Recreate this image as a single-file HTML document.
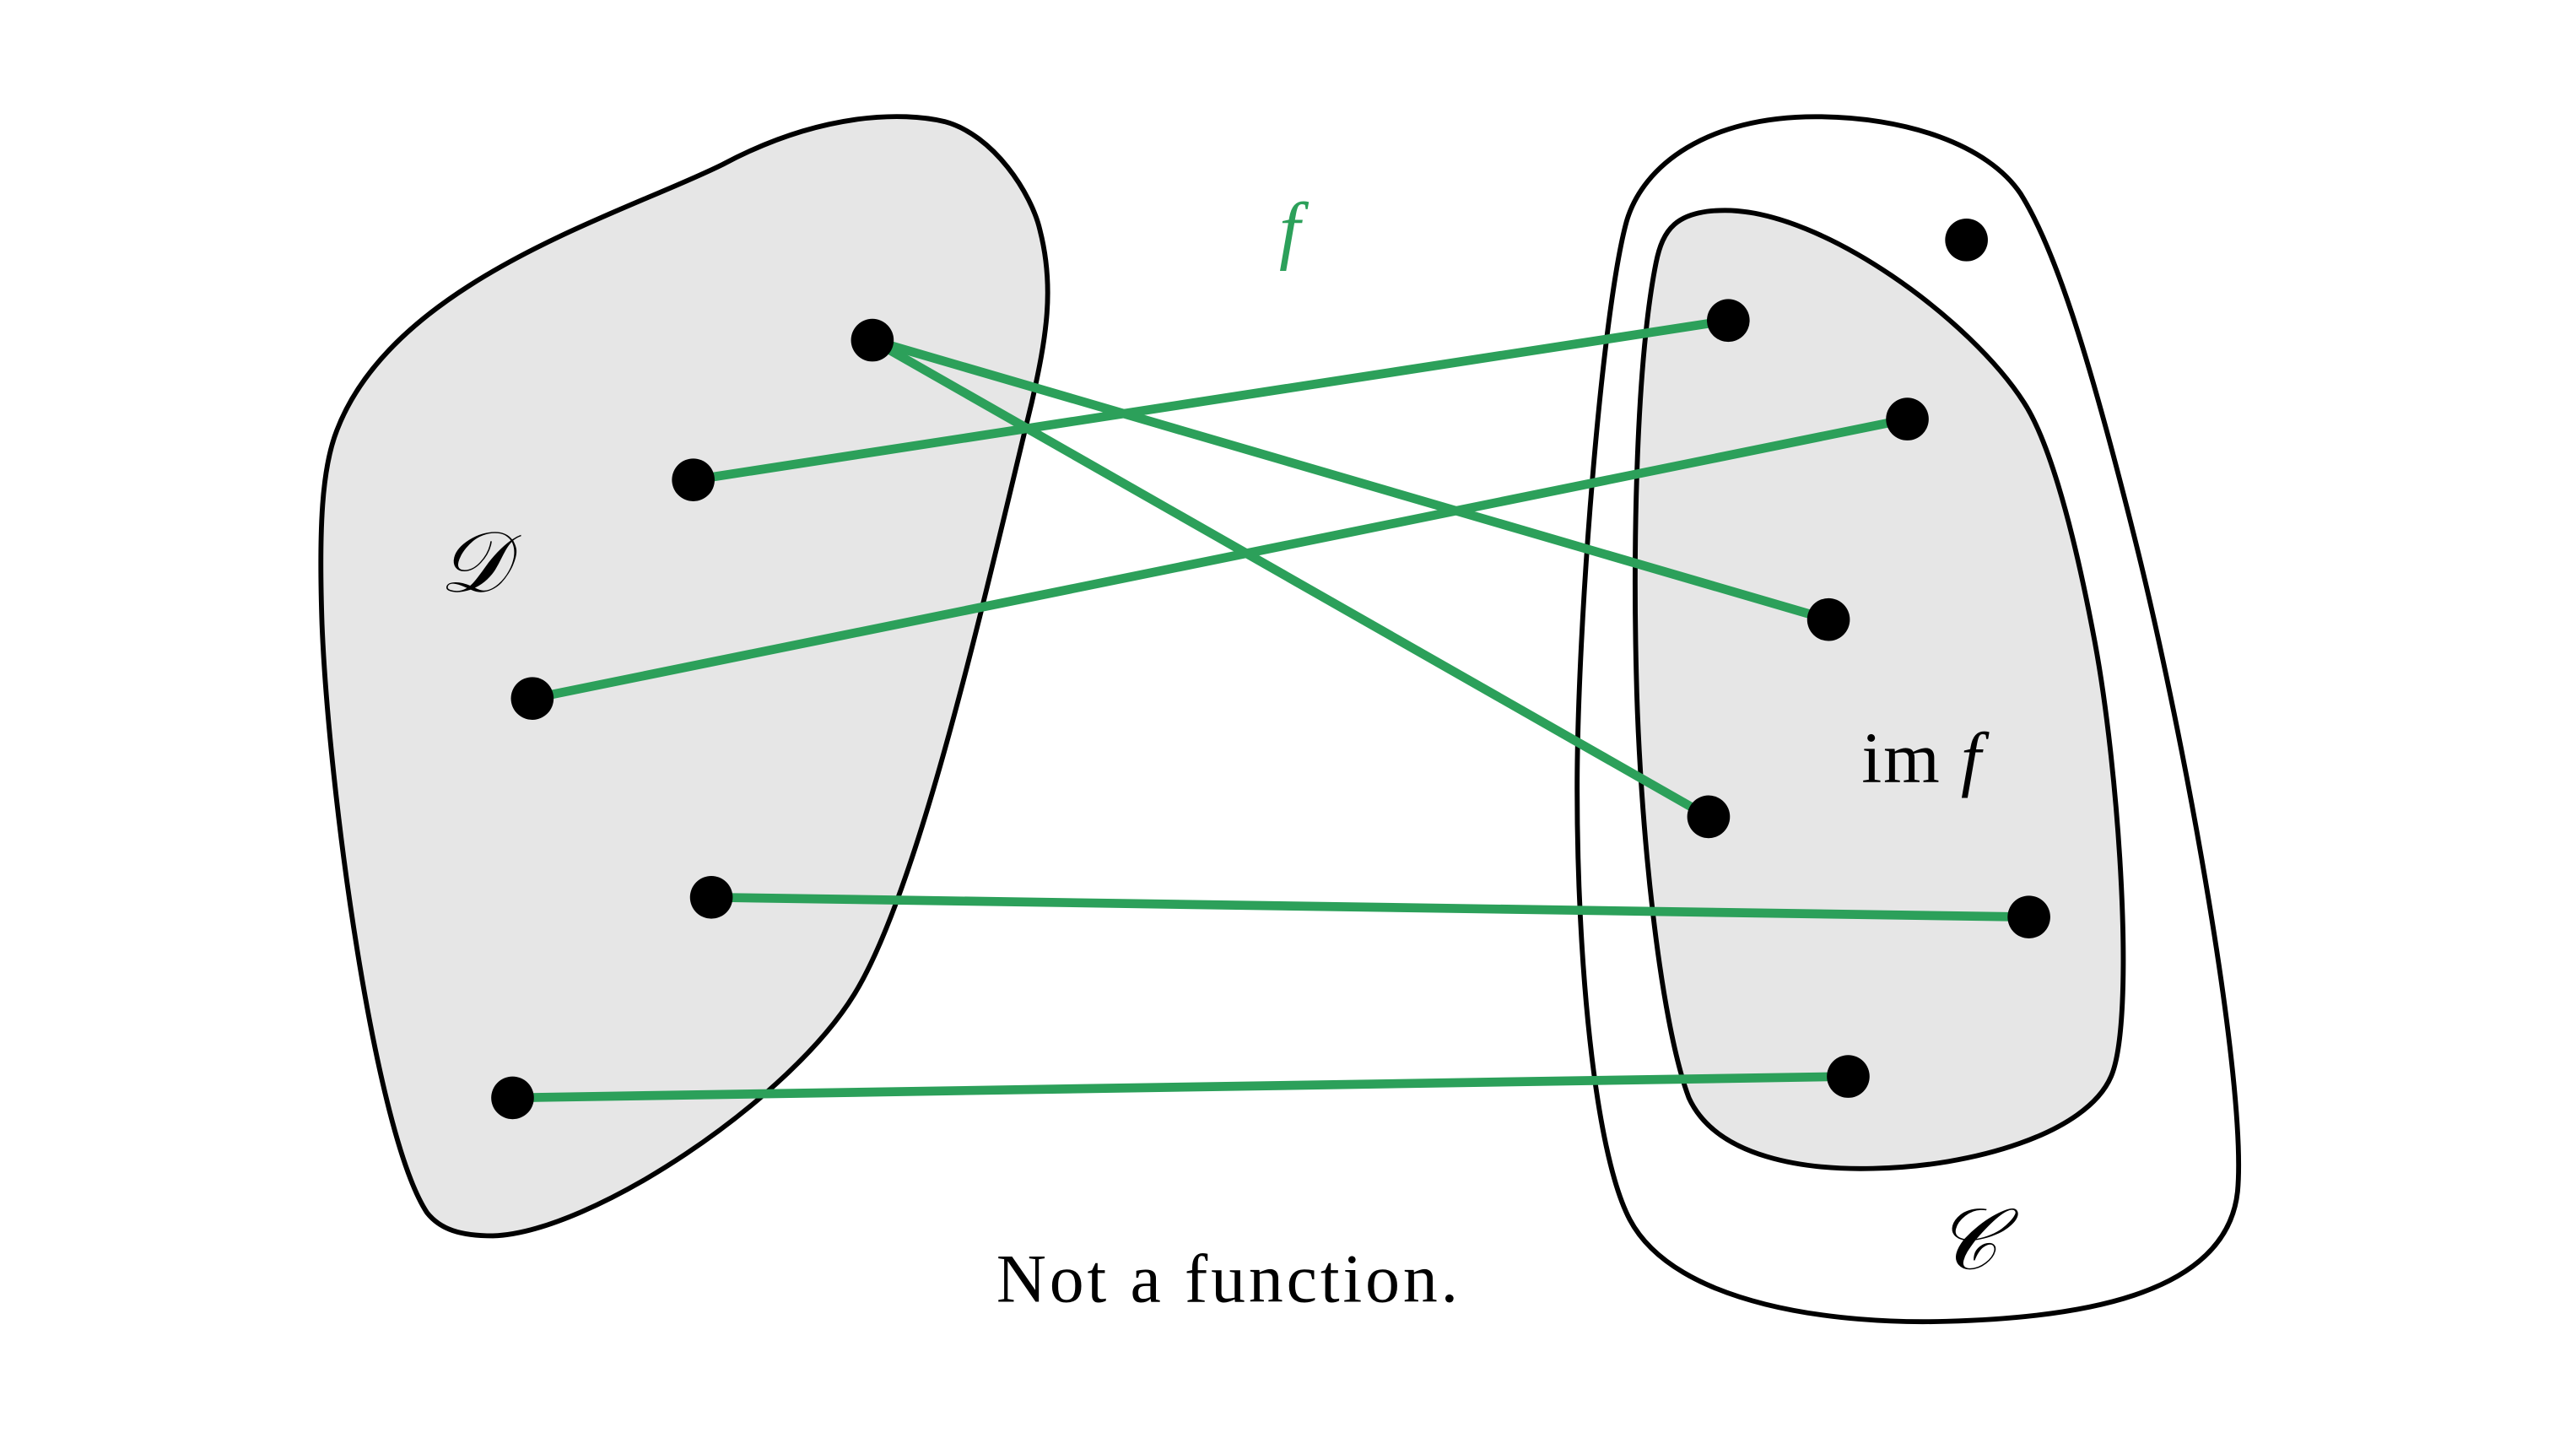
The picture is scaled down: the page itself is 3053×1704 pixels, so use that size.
<!DOCTYPE html>
<html><head><meta charset="utf-8"><style>
html,body{margin:0;padding:0;background:#fff;}
svg{display:block;}
</style></head><body>
<svg id="fig" width="3053" height="1704" viewBox="0 0 1568 875" preserveAspectRatio="none" xmlns="http://www.w3.org/2000/svg">
<path d="M440,100 C500,68 550,68 575,74 C605,82 628,118 633,140 C642,175 637,205 628,245 C600,360 560,540 520,605 C480,670 360,750 300,752 C280,752 268,748 260,738 C228,690 200,480 196,380 C194,320 196,285 205,262 C240,170 380,130 440,100 Z" fill="#e6e6e6" stroke="#000" stroke-width="3"/>
<path d="M1105,71 C1040,71 1000,100 990,135 C975,190 960,380 960,480 C960,580 970,700 992,742 C1020,795 1120,806 1185,804 C1260,802 1355,790 1362,725 C1368,660 1330,450 1300,330 C1270,210 1250,150 1230,118 C1210,88 1160,71 1105,71 Z" fill="#fff" stroke="#000" stroke-width="3"/>
<path d="M1050,128 C1020,128 1012,140 1008,160 C996,220 994,330 996,410 C998,500 1010,620 1028,668 C1045,705 1100,712 1140,711 C1200,710 1270,690 1285,655 C1300,620 1290,470 1275,390 C1260,310 1245,265 1232,245 C1200,195 1110,128 1050,128 Z" fill="#e6e6e6" stroke="#000" stroke-width="3"/>
<g id="edges"></g>
<g id="dots"></g>
<text x="785" y="155" font-family="Liberation Serif, serif" font-style="italic" font-size="46" fill="#2ca05a" text-anchor="middle">f</text>
<text x="288" y="360" font-family="Liberation Serif, serif" font-style="italic" font-size="52" fill="#000" text-anchor="middle">𝒟</text>
<text x="1170" y="476" font-family="Liberation Serif, serif" font-size="44" fill="#000" text-anchor="middle" letter-spacing="1">im <tspan font-style="italic">f</tspan></text>
<text x="1197" y="772" font-family="Liberation Serif, serif" font-style="italic" font-size="52" fill="#000" text-anchor="middle">𝒞</text>
<text x="748" y="792" font-family="Liberation Serif, serif" font-size="42" fill="#000" text-anchor="middle" letter-spacing="2">Not a function.</text>
</svg>
<script>
const domainX = [531, 422, 324, 433, 312];
const domainY = [207, 292, 425, 546, 668];
const codomainX = [1197, 1052, 1161, 1113, 1040, 1235, 1125];
const codomainY = [146, 195, 255, 377, 497, 558, 655];
const edgeFrom = [0, 0, 1, 2, 3, 4];
const edgeTo = [3, 4, 1, 2, 5, 6];
const NS = 'http://www.w3.org/2000/svg';
const eg = document.getElementById('edges');
const dg = document.getElementById('dots');
for (let i = 0; i < edgeFrom.length; i++) {
  const l = document.createElementNS(NS, 'line');
  l.setAttribute('x1', domainX[edgeFrom[i]]);
  l.setAttribute('y1', domainY[edgeFrom[i]]);
  l.setAttribute('x2', codomainX[edgeTo[i]]);
  l.setAttribute('y2', codomainY[edgeTo[i]]);
  l.setAttribute('stroke', '#2ca05a');
  l.setAttribute('stroke-width', '5.5');
  
  
  eg.appendChild(l);
}
function dot(x, y, name) {
  const c = document.createElementNS(NS, 'circle');
  c.setAttribute('cx', x); c.setAttribute('cy', y); c.setAttribute('r', 13);
  c.setAttribute('fill', '#000');
  
  
  dg.appendChild(c);
}
for (let i = 0; i < domainX.length; i++) dot(domainX[i], domainY[i], 'domain-point');
for (let i = 0; i < codomainX.length; i++) dot(codomainX[i], codomainY[i], 'codomain-point');
</script>
</body></html>
